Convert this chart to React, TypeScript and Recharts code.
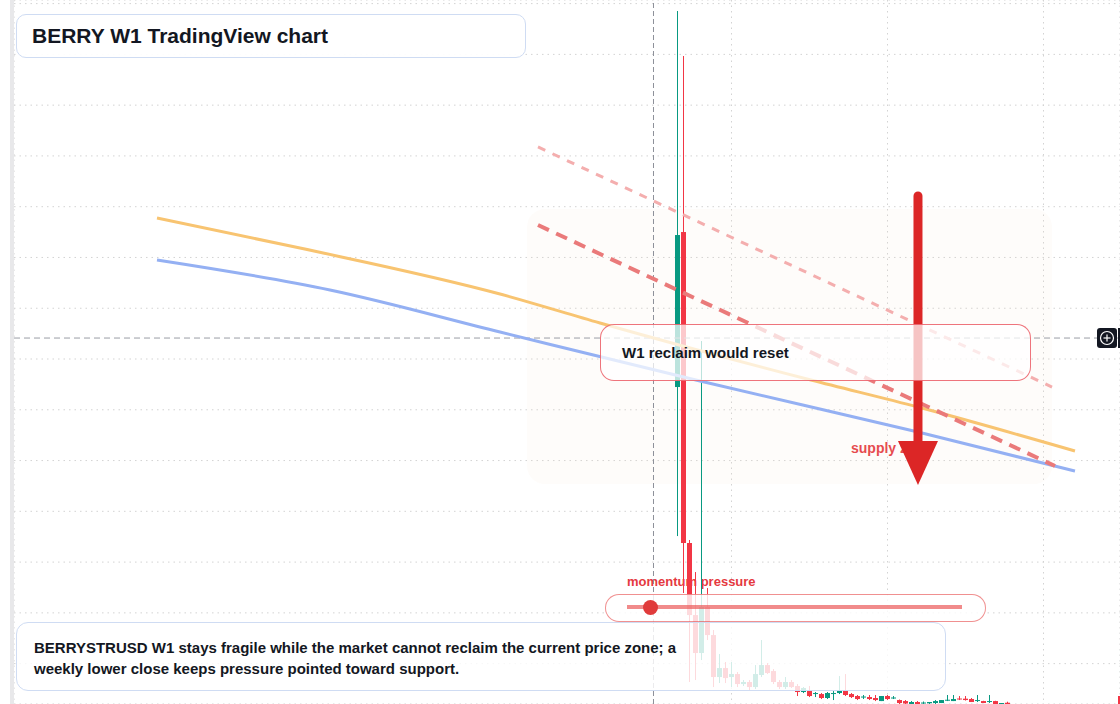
import React from 'react';
import {
  ComposedChart,
  Bar,
  Line,
  XAxis,
  YAxis,
  CartesianGrid,
  ReferenceLine,
  ReferenceArea,
  ReferenceDot,
} from 'recharts';

// ---------- data (weekly candles, index = week number) ----------
const opens = [
  0.6448, 0.9501, 0.3376, 0.1957, 0.1209, 0.2115, 0.1563, 0.0736, 0.0913, 0.0736,
  0.0795, 0.0598, 0.0638, 0.0539, 0.0776, 0.0972, 0.0854, 0.0638, 0.0539, 0.0638,
  0.0559, 0.0441, 0.048, 0.0401, 0.0401, 0.0323, 0.0401, 0.0421, 0.048, 0.0401,
  0.0362, 0.0342, 0.0342, 0.0323, 0.0263, 0.0362, 0.0313, 0.0283, 0.0263, 0.0205,
  0.0244, 0.0224, 0.0219, 0.0224, 0.0224, 0.0277, 0.0263, 0.0313, 0.031, 0.0303,
  0.0273, 0.0263, 0.0254, 0.0263, 0.0205, 0.023,
];
const highs = [
  1.3854, 1.2968, 0.3435, 0.2804, 0.7354, 0.2489, 0.1662, 0.1189, 0.1032, 0.1032,
  0.0835, 0.0677, 0.0677, 0.0972, 0.1465, 0.1012, 0.0894, 0.0677, 0.0736, 0.0677,
  0.0598, 0.0539, 0.0559, 0.0441, 0.0421, 0.0441, 0.046, 0.0756, 0.0795, 0.0421,
  0.0382, 0.0382, 0.0382, 0.0382, 0.0362, 0.0382, 0.0362, 0.0293, 0.0283, 0.0263,
  0.0263, 0.0254, 0.0244, 0.0283, 0.0283, 0.0382, 0.0382, 0.0362, 0.0362, 0.0323,
  0.0382, 0.0268, 0.0382, 0.0268, 0.0224, 0.025,
];
const lows = [
  0.3513, 0.2391, 0.0638, 0.0677, 0.1071, 0.1465, 0.0539, 0.0618, 0.0618, 0.0539,
  0.0539, 0.0559, 0.048, 0.05, 0.0736, 0.0795, 0.0598, 0.05, 0.05, 0.052,
  0.0362, 0.0421, 0.0342, 0.0342, 0.0303, 0.0303, 0.0283, 0.0401, 0.0362, 0.0323,
  0.0283, 0.0303, 0.0283, 0.0263, 0.0263, 0.0283, 0.0303, 0.0205, 0.0205, 0.0205,
  0.0205, 0.0205, 0.0205, 0.0205, 0.0224, 0.0263, 0.0263, 0.0283, 0.0273, 0.0244,
  0.0244, 0.0224, 0.0224, 0.0205, 0.0205, 0.0205,
];
const closes = [
  0.9442, 0.3376, 0.1957, 0.1209, 0.2115, 0.1563, 0.0736, 0.0913, 0.0716, 0.0795,
  0.0598, 0.0638, 0.0539, 0.0795, 0.0972, 0.0815, 0.0638, 0.0539, 0.0638, 0.0539,
  0.0441, 0.052, 0.0362, 0.0421, 0.0323, 0.0421, 0.0421, 0.048, 0.0382, 0.0342,
  0.0303, 0.0352, 0.0303, 0.0283, 0.0362, 0.0303, 0.0333, 0.0224, 0.0214, 0.0244,
  0.0205, 0.0234, 0.0244, 0.0263, 0.0283, 0.0289, 0.0303, 0.0303, 0.0283, 0.0244,
  0.0283, 0.0224, 0.0263, 0.0205, 0.0224, 0.0205,
];

// moving averages (index positions, price values)
const slowIndex = [-86.75, -62.92, -29.58, -12.92, 22.25, 40.08, 66.25];
const slowValues = [0.9777, 0.9186, 0.828, 0.7709, 0.6586, 0.6054, 0.5188];
const fastIndex = [-86.75, -57.92, -29.58, 3.75, 40.08, 66.25];
const fastValues = [0.895, 0.836, 0.7532, 0.6566, 0.5562, 0.4794];

// drawn objects (index, price)
const supplyZoneX = [-25.08, 62.42];
const supplyZoneY = [0.4538, 0.9954];
const trendMainX = [-23.25, 62.92];
const trendMainY = [0.9639, 0.4892];
const trendUpperX = [-23.25, 62.42];
const trendUpperY = [1.1176, 0.6448];
const arrowX = 40.08;
const arrowY = [1.021, 0.5385, 0.4518]; // tail, head base, tip
const crosshairX = -4;
const crosshairY = 0.7413;

// axes
const xDomain = [-110.5833, 73.75];
const yDomain = [0.0205, 1.4071];
const xGridTicks = [9, 35, 61];
const yGridTicks = [0.1, 0.2, 0.3, 0.4, 0.5, 0.6, 0.7, 0.8, 0.9, 1.0, 1.1, 1.2, 1.3, 1.4];

const candles = opens.map((o, i) => ({
  i,
  open: o,
  high: highs[i],
  low: lows[i],
  close: closes[i],
  range: [lows[i], highs[i]],
}));
const slowData = slowIndex.map((i, k) => ({ i, v: slowValues[k] }));
const fastData = fastIndex.map((i, k) => ({ i, v: fastValues[k] }));

const GREEN = '#089981';
const RED = '#f23645';
const FONT = '"Liberation Sans", Arial, Helvetica, sans-serif';
const INK = '#131722';

const Candle = (props: any) => {
  const { x, y, width, height, payload } = props;
  if (x == null || y == null || !payload) return null;
  const top = Math.min(y, y + height);
  const bottom = Math.max(y, y + height);
  const span = payload.high - payload.low;
  const k = span > 0 ? (bottom - top) / span : 0;
  const yOf = (v: number) => top + (payload.high - v) * k;
  const up = payload.close >= payload.open;
  const color = up ? GREEN : RED;
  const cx = x + width / 2;
  const bodyLeft = Math.round(cx - 2.5);
  const wickLeft = Math.round(cx - 0.5);
  const yo = yOf(payload.open);
  const yc = yOf(payload.close);
  const bTop = Math.min(yo, yc);
  const bH = Math.max(1, Math.abs(yo - yc));
  return (
    <g>
      <rect x={wickLeft} y={top} width={1} height={Math.max(1, bottom - top)} fill={color} />
      <rect x={bodyLeft} y={bTop} width={5} height={bH} fill={color} />
    </g>
  );
};

const ArrowHead = (props: any) => {
  const { cx, cy } = props;
  if (cx == null || cy == null) return null;
  return <polygon points={`${cx - 20},${cy - 44} ${cx + 20},${cy - 44} ${cx},${cy}`} fill="#dc2626" />;
};

export default function App() {
  return (
    <div
      style={{
        position: 'absolute',
        left: 0,
        top: 0,
        width: 1120,
        height: 704,
        background: '#ffffff',
        overflow: 'hidden',
        fontFamily: FONT,
      }}
    >
      {/* labels under the chart layer */}
      <div
        style={{
          position: 'absolute',
          left: 851,
          top: 440,
          fontSize: 14,
          lineHeight: '16px',
          fontWeight: 700,
          color: '#e5393f',
          whiteSpace: 'nowrap',
        }}
      >
        supply zone
      </div>
      <div
        style={{
          position: 'absolute',
          left: 627,
          top: 574,
          fontSize: 13,
          lineHeight: '16px',
          fontWeight: 700,
          color: '#e5393f',
          whiteSpace: 'nowrap',
        }}
      >
        momentum pressure
      </div>

      <div style={{ position: 'absolute', left: 0, top: 0 }}>
        <ComposedChart
          width={1120}
          height={704}
          data={candles}
          margin={{ top: 0, right: 0, bottom: 0, left: 14 }}
        >
          <XAxis
            dataKey="i"
            type="number"
            domain={xDomain}
            ticks={xGridTicks}
            allowDataOverflow
            hide
          />
          <YAxis type="number" domain={yDomain} ticks={yGridTicks} allowDataOverflow hide />
          <CartesianGrid stroke="#d3d3d3" strokeDasharray="1.5 4" />
          <ReferenceLine x={crosshairX} stroke="#8d9099" strokeDasharray="5 3" ifOverflow="visible" />
          <ReferenceLine y={crosshairY} stroke="#9a9da5" strokeDasharray="6 4" ifOverflow="visible" />
          <Bar dataKey="range" barSize={5} shape={Candle} isAnimationActive={false} />
          <ReferenceArea
            x1={supplyZoneX[0]}
            x2={supplyZoneX[1]}
            y1={supplyZoneY[0]}
            y2={supplyZoneY[1]}
            fill="rgb(250,225,205)"
            fillOpacity={0.11}
            stroke="none"
            radius={18}
            ifOverflow="visible"
          />
          <Line
            data={slowData}
            dataKey="v"
            type="monotone"
            stroke="#f8c471"
            strokeWidth={3}
            dot={false}
            activeDot={false}
            isAnimationActive={false}
          />
          <Line
            data={fastData}
            dataKey="v"
            type="monotone"
            stroke="#94b0f3"
            strokeWidth={3}
            dot={false}
            activeDot={false}
            isAnimationActive={false}
          />
          <ReferenceLine
            segment={[
              { x: trendUpperX[0], y: trendUpperY[0] },
              { x: trendUpperX[1], y: trendUpperY[1] },
            ]}
            stroke="#f4aeae"
            strokeWidth={3}
            strokeDasharray="8 8"
            ifOverflow="visible"
          />
          <ReferenceLine
            segment={[
              { x: trendMainX[0], y: trendMainY[0] },
              { x: trendMainX[1], y: trendMainY[1] },
            ]}
            stroke="#ea7a7a"
            strokeWidth={4}
            strokeDasharray="12 8"
            ifOverflow="visible"
          />
          <ReferenceLine
            segment={[
              { x: arrowX, y: arrowY[0] },
              { x: arrowX, y: arrowY[1] },
            ]}
            stroke="#dc2626"
            strokeWidth={9}
            strokeLinecap="round"
            ifOverflow="visible"
          />
          <ReferenceDot x={arrowX} y={arrowY[2]} shape={ArrowHead} ifOverflow="visible" />
        </ComposedChart>
      </div>

      {/* left price-scale edge */}
      <div style={{ position: 'absolute', left: 10, top: 0, width: 4, height: 704, background: '#e8e8ea' }} />

      {/* W1 reclaim box */}
      <div
        style={{
          position: 'absolute',
          left: 600,
          top: 324,
          width: 431,
          height: 57,
          boxSizing: 'border-box',
          border: '1px solid rgba(232,70,80,0.75)',
          borderRadius: 14,
          background: 'rgba(255,255,255,0.73)',
          display: 'flex',
          alignItems: 'center',
          paddingLeft: 21,
          fontSize: 15,
          fontWeight: 700,
          color: INK,
          whiteSpace: 'nowrap',
        }}
      >
        W1 reclaim would reset
      </div>

      {/* momentum pill */}
      <div
        style={{
          position: 'absolute',
          left: 605,
          top: 594,
          width: 381,
          height: 28,
          boxSizing: 'border-box',
          border: '1px solid rgba(230,70,70,0.6)',
          borderRadius: 14,
          background: 'rgba(255,255,255,0.82)',
        }}
      >
        <div
          style={{
            position: 'absolute',
            left: 21,
            top: 10,
            width: 335,
            height: 4,
            background: 'rgba(235,90,90,0.7)',
          }}
        />
        <div
          style={{
            position: 'absolute',
            left: 37,
            top: 4.5,
            width: 15,
            height: 15,
            borderRadius: '50%',
            background: '#e03b3b',
          }}
        />
      </div>

      {/* title */}
      <div
        style={{
          position: 'absolute',
          left: 16,
          top: 14,
          width: 510,
          height: 44,
          boxSizing: 'border-box',
          border: '1px solid #cfdcf3',
          borderRadius: 10,
          background: 'rgba(255,255,255,0.95)',
          display: 'flex',
          alignItems: 'center',
          paddingLeft: 15,
          fontSize: 21,
          fontWeight: 700,
          color: INK,
          whiteSpace: 'nowrap',
        }}
      >
        BERRY W1 TradingView chart
      </div>

      {/* bottom note */}
      <div
        style={{
          position: 'absolute',
          left: 16,
          top: 622,
          width: 930,
          height: 69,
          boxSizing: 'border-box',
          border: '1px solid #cfdcf3',
          borderRadius: 12,
          background: 'rgba(255,255,255,0.82)',
          padding: '14px 17px',
          fontSize: 15,
          lineHeight: '21px',
          fontWeight: 700,
          color: INK,
          whiteSpace: 'nowrap',
        }}
      >
        BERRYSTRUSD W1 stays fragile while the market cannot reclaim the current price zone; a
        <br />
        weekly lower close keeps pressure pointed toward support.
      </div>

      {/* crosshair plus button */}
      <div
        style={{
          position: 'absolute',
          left: 1097,
          top: 328,
          width: 20,
          height: 20,
          borderRadius: 3,
          background: '#131722',
        }}
      >
        <svg width={20} height={20} style={{ display: 'block' }}>
          <circle cx={10} cy={10} r={6.5} fill="none" stroke="#ffffff" strokeWidth={1.2} />
          <line x1={6.5} y1={10} x2={13.5} y2={10} stroke="#ffffff" strokeWidth={1.2} />
          <line x1={10} y1={6.5} x2={10} y2={13.5} stroke="#ffffff" strokeWidth={1.2} />
        </svg>
      </div>
      <div style={{ position: 'absolute', left: 1118, top: 328, width: 2, height: 20, background: '#131722' }} />
      <div style={{ position: 'absolute', left: 1118, top: 696, width: 2, height: 8, background: RED }} />
    </div>
  );
}
